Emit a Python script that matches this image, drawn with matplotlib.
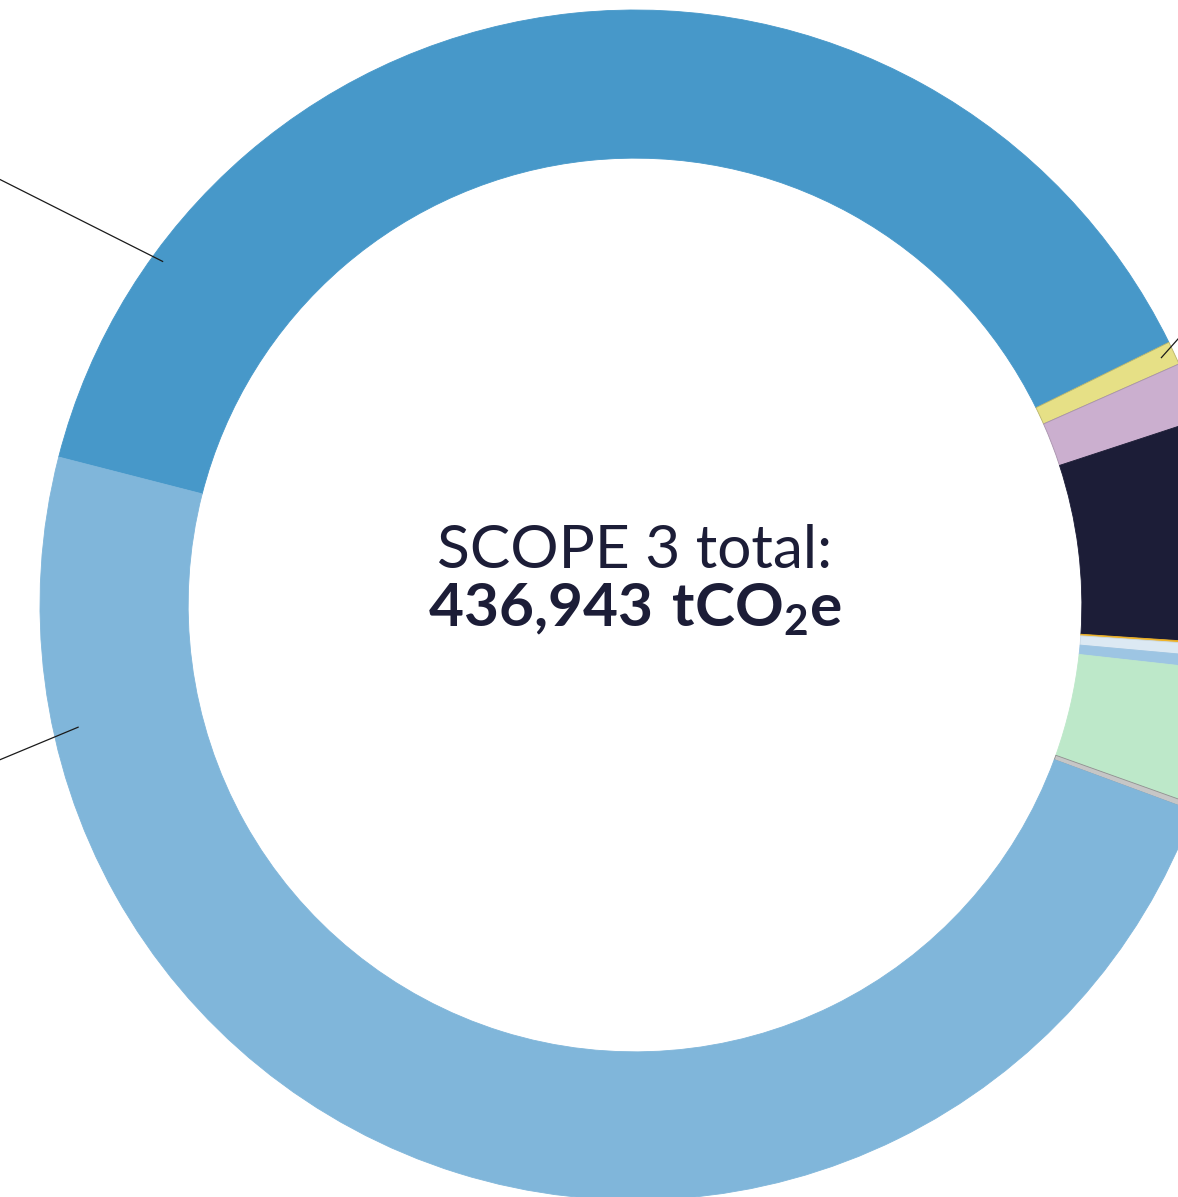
import matplotlib
matplotlib.use("Agg")
import matplotlib.pyplot as plt

# scope 3 emissions by category, tCO2e (clockwise from the upper-left edge)
categories = [
    "Purchased goods and services",
    "Capital goods",
    "Fuel- and energy-related activities",
    "Upstream transportation and distribution",
    "Waste generated in operations",
    "Business travel",
    "Employee commuting",
    "Downstream transportation and distribution",
    "End-of-life treatment of sold products",
    "Use of sold products",
]
emissions = [169196, 2792, 6918, 26641, 243, 1456, 1456, 16143, 728, 211370]
colors = ["#4798c9", "#e6e086", "#cbafcf", "#1c1d37", "#f0b429",
          "#dce9f3", "#9dc5e3", "#bde8c9", "#c6c6c6", "#80b6da"]
edge_colors = ["#4798c9", "#b9b46a", "#a993ad", "#1c1d37", "#f0b429",
               "#c9d9e6", "#9dc5e3", "#bde8c9", "#8f8f8f", "#80b6da"]
total_label = "436,943"

# leader lines towards the (off-canvas) category labels, in radius units
leaders = [
    ((-1.20, 0.782), (-0.793, 0.577)),
    ((-1.20, -0.205 - 0.074 * 1.49), (-0.935, -0.205)),
    ((0.95, 0.489), (0.884, 0.415)),
]

plt.rcParams["mathtext.fontset"] = "custom"
plt.rcParams["mathtext.rm"] = "Lato"
plt.rcParams["mathtext.bf"] = "Lato:bold"

fig = plt.figure(figsize=(11.78, 11.97), dpi=100)
ax = fig.add_axes([0, 0, 1, 1])

wedges, _ = ax.pie(emissions, colors=colors, startangle=165.6, counterclock=False,
                   radius=1.0, wedgeprops=dict(width=0.249, linewidth=0.6))
for w, ec in zip(wedges, edge_colors):
    w.set_edgecolor(ec)

for (x0, y0), (x1, y1) in leaders:
    ax.plot([x0, x1], [y0, y1], color="#1a1a1a", lw=0.9, solid_capstyle="butt")

ax.text(0.0, 0.062, "SCOPE 3 total:", ha="center", va="baseline",
        fontsize=43.5, color="#1c1d37", family="Lato", fontweight="normal")
ax.text(0.0, -0.037, r"$\mathbf{" + total_label.replace(",", "{,}") + r"\ tCO_2e}$",
        ha="center", va="baseline", fontsize=43.5, color="#1c1d37")

ax.set_xlim(-635 / 595, 543 / 595)
ax.set_ylim(-592 / 595, 605 / 595)
ax.set_aspect("auto")
ax.axis("off")

fig.savefig("out.png", dpi=100)
